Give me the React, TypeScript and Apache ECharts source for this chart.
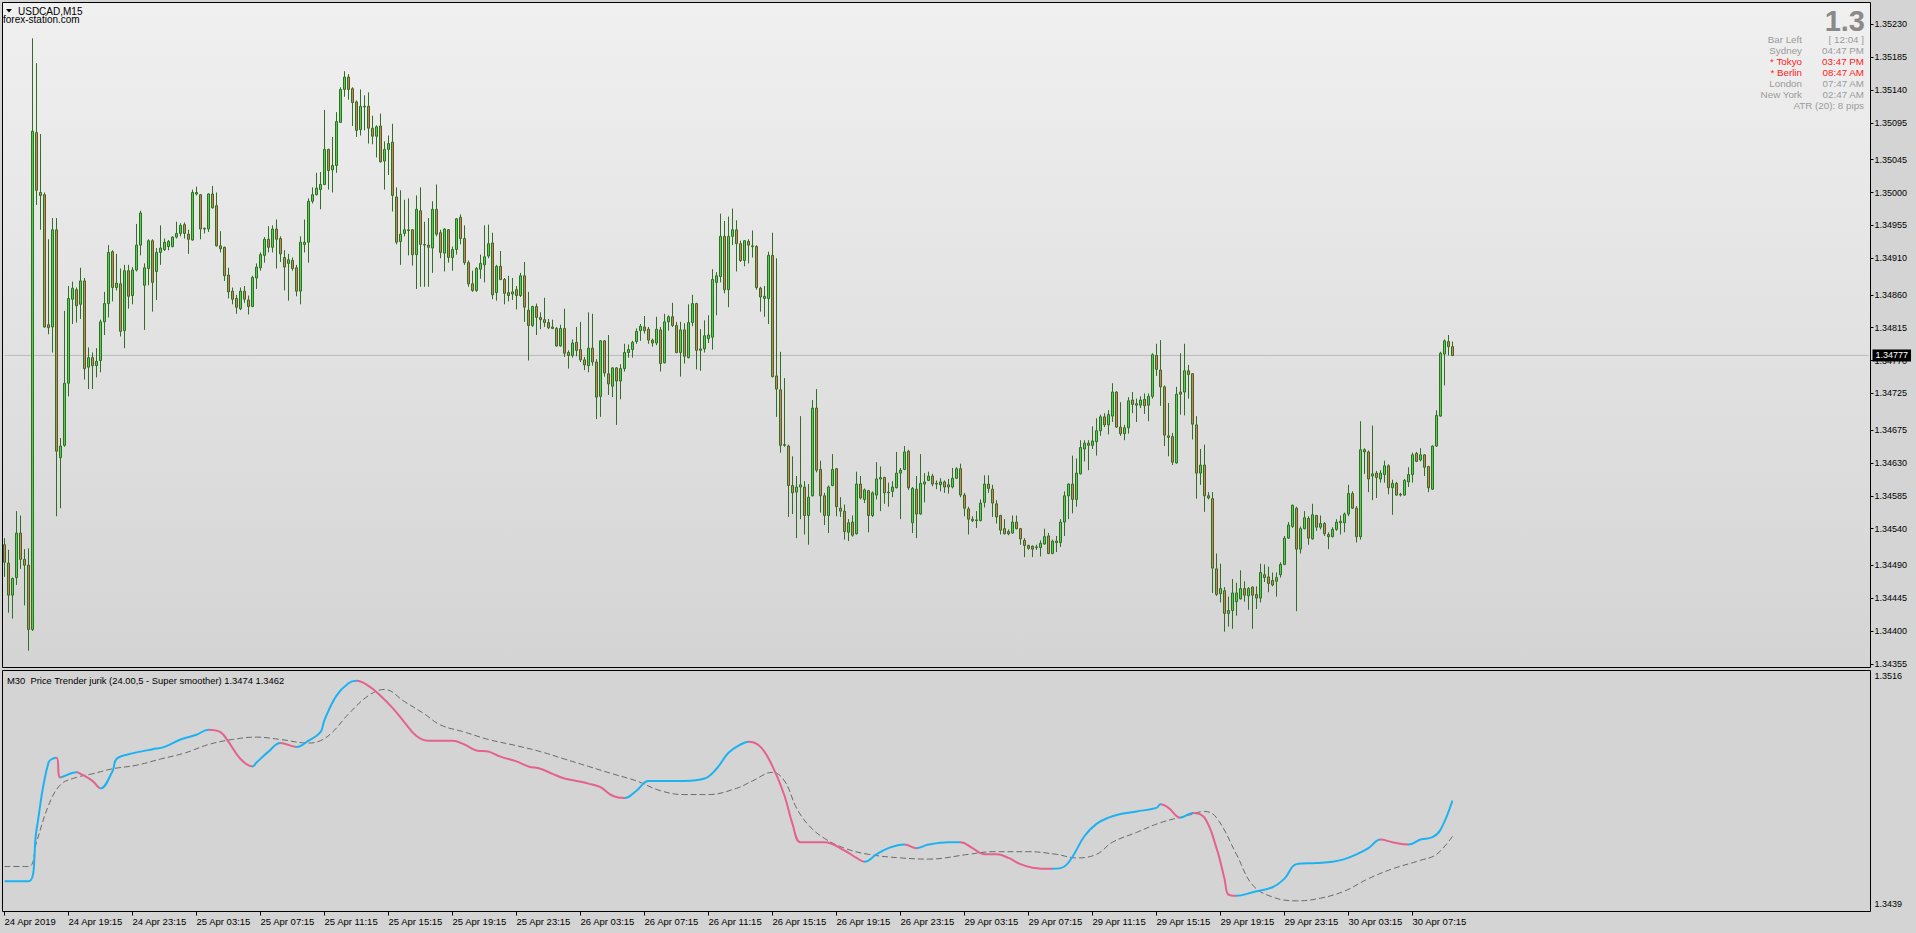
import React, { useEffect, useRef } from "react";
import * as echarts from "echarts";

// ---- x axis time labels (one every 16 M15 bars) ----
const TIME_LABELS = [
  "24 Apr 2019", "24 Apr 19:15", "24 Apr 23:15", "25 Apr 03:15", "25 Apr 07:15", "25 Apr 11:15",
  "25 Apr 15:15", "25 Apr 19:15", "25 Apr 23:15", "26 Apr 03:15", "26 Apr 07:15", "26 Apr 11:15",
  "26 Apr 15:15", "26 Apr 19:15", "26 Apr 23:15", "29 Apr 03:15", "29 Apr 07:15", "29 Apr 11:15",
  "29 Apr 15:15", "29 Apr 19:15", "29 Apr 23:15", "30 Apr 03:15", "30 Apr 07:15",
];
const BARS_PER_LABEL = 16;
const SLOTS = 467;

// ---- price axis labels ----
const PRICE_TICKS = [
  1.3523, 1.35185, 1.3514, 1.35095, 1.35045, 1.35, 1.34955, 1.3491, 1.3486, 1.34815,
  1.3477, 1.34725, 1.34675, 1.3463, 1.34585, 1.3454, 1.3449, 1.34445, 1.344, 1.34355,
];
const IND_TICKS = [1.3439, 1.3516];
const LAST_PRICE = 1.34777;

// ---- USDCAD M15 candles ----
const OPEN = [
  1.34518,1.34493,1.34449,1.34473,1.34534,1.34498,1.3449,1.34402,1.35082,1.35,
  1.34997,1.34819,1.34816,1.34949,1.34637,1.34654,1.34739,1.34854,1.34867,1.34847,
  1.34879,1.34761,1.34774,1.34763,1.3477,1.34823,1.34848,1.34919,1.3487,1.34875,
  1.34811,1.34893,1.34859,1.34894,1.34928,1.34873,1.34896,1.34934,1.34892,1.34918,
  1.34922,1.34926,1.34926,1.34939,1.34944,1.34956,1.34943,1.34935,1.34998,1.34997,
  1.34951,1.3495,1.34998,1.34982,1.34927,1.34925,1.34887,1.34865,1.34855,1.34841,
  1.34865,1.34853,1.34844,1.34883,1.34897,1.34914,1.34936,1.34925,1.3495,1.34937,
  1.34911,1.34903,1.34907,1.34897,1.34865,1.34929,1.34932,1.34988,1.34997,1.35004,
  1.35011,1.35059,1.35031,1.35037,1.35096,1.35141,1.35158,1.35142,1.35124,1.35086,
  1.35118,1.35118,1.35088,1.35077,1.35091,1.35043,1.35059,1.35069,1.34994,1.34933,
  1.34944,1.34949,1.34949,1.34915,1.34975,1.34929,1.34928,1.34924,1.34977,1.34945,
  1.34917,1.34949,1.34911,1.34922,1.34966,1.34937,1.34904,1.34875,1.34866,1.34895,
  1.34901,1.34913,1.34931,1.34863,1.34899,1.34881,1.34863,1.34861,1.34867,1.34859,
  1.34886,1.34839,1.34818,1.34844,1.34829,1.34826,1.34822,1.34816,1.34814,1.3479,
  1.34814,1.34781,1.34777,1.34795,1.34785,1.34771,1.34763,1.34787,1.34768,1.34721,
  1.34797,1.34752,1.34735,1.3476,1.34742,1.34759,1.34781,1.34785,1.34796,1.34811,
  1.34816,1.34813,1.34798,1.34794,1.34812,1.34767,1.34823,1.3483,1.34818,1.34781,
  1.34812,1.34774,1.34822,1.34848,1.34784,1.34786,1.348,1.34802,1.34877,1.34885,
  1.3494,1.34867,1.3494,1.34949,1.3493,1.34907,1.34933,1.34927,1.34926,1.34869,
  1.34855,1.34855,1.34914,1.34749,1.3473,1.34655,1.34653,1.34599,1.3459,1.34597,
  1.34597,1.34558,1.34585,1.34705,1.34621,1.34585,1.34558,1.34599,1.34622,1.34568,
  1.34564,1.34535,1.34549,1.34533,1.34601,1.3458,1.34592,1.34558,1.34586,1.34608,
  1.3461,1.3459,1.34591,1.34596,1.34616,1.34621,1.34646,1.34548,1.34594,1.3456,
  1.34601,1.34606,1.34612,1.34601,1.346,1.34604,1.346,1.34597,1.34609,1.34622,
  1.34586,1.34567,1.34553,1.34552,1.34551,1.34576,1.34601,1.34594,1.34574,1.34558,
  1.3454,1.34536,1.34534,1.34549,1.3454,1.34524,1.34517,1.34516,1.34515,1.34514,
  1.34519,1.3453,1.34506,1.34523,1.34521,1.34549,1.34585,1.34601,1.3458,1.34615,
  1.34649,1.34657,1.34654,1.34659,1.34674,1.34693,1.34682,1.34694,1.34727,1.34679,
  1.3467,1.34678,1.34716,1.34709,1.34709,1.34717,1.34709,1.34721,1.34777,1.34757,
  1.34734,1.34667,1.34666,1.3463,1.34727,1.34727,1.34756,1.34752,1.34682,1.34616,
  1.34627,1.34585,1.34581,1.34485,1.34451,1.34455,1.34424,1.34428,1.3444,1.34444,
  1.34458,1.34448,1.3446,1.3445,1.34445,1.34477,1.34474,1.34469,1.34468,1.34477,
  1.34491,1.34527,1.34543,1.34568,1.34512,1.3454,1.34554,1.34526,1.34558,1.34542,
  1.34547,1.34532,1.34529,1.34539,1.3455,1.34548,1.3456,1.34588,1.34568,1.34529,
  1.34648,1.34645,1.34612,1.34616,1.34608,1.34614,1.34626,1.34596,1.34602,1.34587,
  1.34586,1.34604,1.34614,1.34643,1.34634,1.34641,1.34625,1.34594,1.34653,1.34694,
  1.34779,1.34796,1.34789,
];
const HIGH = [
  1.34527,1.34511,1.34473,1.34564,1.34558,1.34512,1.34513,1.35211,1.35177,1.3508,
  1.35,1.34936,1.34965,1.34965,1.34664,1.34838,1.34872,1.34878,1.3487,1.34897,
  1.34883,1.34788,1.34781,1.34787,1.34826,1.34864,1.34928,1.34921,1.34916,1.34896,
  1.34901,1.34901,1.34898,1.34957,1.34975,1.34903,1.34936,1.34936,1.34924,1.34955,
  1.34937,1.34935,1.3494,1.3496,1.34958,1.34959,1.34949,1.35004,1.35008,1.34998,
  1.34952,1.34999,1.35009,1.35,1.34947,1.34926,1.34897,1.3487,1.3486,1.3487,
  1.34872,1.34859,1.34886,1.34903,1.34918,1.34939,1.34954,1.34955,1.34963,1.3494,
  1.34921,1.34916,1.34911,1.34901,1.3494,1.34963,1.34992,1.35007,1.35027,1.35028,
  1.35113,1.3506,1.35076,1.3511,1.35144,1.35166,1.35162,1.35144,1.35126,1.35141,
  1.35133,1.35137,1.35105,1.35092,1.35108,1.3507,1.35078,1.35094,1.35007,1.35003,
  1.3499,1.34992,1.3495,1.34996,1.35007,1.3496,1.34965,1.34988,1.35011,1.34949,
  1.34951,1.3495,1.34926,1.34965,1.3497,1.34955,1.34907,1.34893,1.34898,1.34915,
  1.34955,1.34956,1.34945,1.34901,1.3492,1.34883,1.34886,1.34883,1.34872,1.3489,
  1.34905,1.34864,1.34845,1.34848,1.34836,1.34856,1.34827,1.34826,1.34816,1.34819,
  1.34841,1.34784,1.34799,1.34816,1.34823,1.34775,1.34836,1.34834,1.34772,1.34798,
  1.34798,1.34805,1.34761,1.34761,1.34765,1.34793,1.34792,1.34797,1.34814,1.3482,
  1.34831,1.34816,1.348,1.3483,1.34816,1.34834,1.34832,1.34849,1.34823,1.34823,
  1.34821,1.34847,1.3486,1.34849,1.34813,1.34825,1.34832,1.34895,1.34891,1.34971,
  1.34961,1.34967,1.34978,1.34962,1.34934,1.34935,1.34936,1.34948,1.34928,1.34871,
  1.34872,1.34919,1.34945,1.3491,1.34782,1.34746,1.34655,1.34639,1.34612,1.34694,
  1.34605,1.34601,1.34716,1.34731,1.34633,1.34589,1.34599,1.34642,1.34623,1.34583,
  1.34573,1.34553,1.34558,1.34618,1.34612,1.34595,1.34593,1.34591,1.34631,1.34625,
  1.34611,1.34603,1.34605,1.34645,1.34623,1.34653,1.34648,1.34597,1.34612,1.34642,
  1.34616,1.34618,1.34615,1.34606,1.34609,1.34606,1.34608,1.34623,1.34624,1.34629,
  1.34589,1.3457,1.34557,1.34564,1.3458,1.34613,1.34613,1.346,1.34579,1.34559,
  1.34553,1.34539,1.34558,1.34558,1.34541,1.34527,1.34518,1.34517,1.34518,1.34524,
  1.3454,1.34534,1.34525,1.3453,1.34553,1.34591,1.34602,1.3464,1.34636,1.34661,
  1.34661,1.34661,1.3468,1.34691,1.34696,1.34698,1.34702,1.34739,1.34728,1.34713,
  1.34682,1.3472,1.34727,1.34718,1.34721,1.34725,1.34725,1.3478,1.34793,1.34798,
  1.34736,1.34712,1.34671,1.34734,1.3478,1.34793,1.34764,1.34753,1.34694,1.34649,
  1.34655,1.3459,1.3459,1.34506,1.34492,1.3446,1.34447,1.34471,1.34466,1.34483,
  1.34468,1.3446,1.34461,1.34461,1.34492,1.34491,1.34488,1.3448,1.3448,1.34494,
  1.3453,1.34549,1.34573,1.3457,1.34543,1.34564,1.34557,1.34574,1.34559,1.34558,
  1.34549,1.34535,1.34542,1.34553,1.34558,1.34562,1.346,1.34591,1.34571,1.34687,
  1.3465,1.34647,1.34681,1.34619,1.3462,1.34633,1.34628,1.34607,1.34604,1.34589,
  1.34608,1.34624,1.34644,1.34645,1.3465,1.34642,1.34626,1.34654,1.34702,1.34782,
  1.34799,1.34805,1.34796,
];
const LOW = [
  1.34474,1.34425,1.34417,1.34463,1.34485,1.34435,1.34373,1.344,1.34983,1.34949,
  1.34815,1.34806,1.34781,1.34557,1.34568,1.34652,1.34721,1.3482,1.34822,1.34827,
  1.34744,1.34731,1.34731,1.34747,1.34754,1.34805,1.34829,1.34851,1.34866,1.34803,
  1.34787,1.34841,1.34847,1.34892,1.34914,1.34812,1.34873,1.34837,1.34853,1.34901,
  1.3492,1.34921,1.34925,1.34937,1.3494,1.34937,1.34916,1.34934,1.34996,1.34936,
  1.34944,1.34946,1.34978,1.34926,1.34918,1.34879,1.34855,1.34847,1.34834,1.34839,
  1.34849,1.34833,1.34843,1.34868,1.34893,1.34904,1.34918,1.34918,1.34896,1.34905,
  1.34866,1.34852,1.34893,1.34858,1.34847,1.34918,1.34904,1.34985,1.34996,1.34977,
  1.3501,1.35004,1.35,1.35027,1.35095,1.35131,1.35127,1.35091,1.35076,1.35078,
  1.35085,1.35067,1.35066,1.35048,1.35041,1.35004,1.35024,1.34974,1.34929,1.34901,
  1.3494,1.34914,1.349,1.34868,1.34871,1.34871,1.34871,1.3489,1.3494,1.3491,
  1.34892,1.34904,1.34893,1.34915,1.34929,1.34901,1.34871,1.34864,1.34864,1.34882,
  1.34877,1.3491,1.34854,1.34852,1.3488,1.34847,1.34851,1.34853,1.3484,1.34857,
  1.34823,1.3477,1.34816,1.34805,1.34813,1.34816,1.34813,1.34813,1.34789,1.34789,
  1.34775,1.34759,1.34774,1.34776,1.34768,1.34757,1.34754,1.34763,1.3469,1.34693,
  1.34748,1.34723,1.3472,1.34682,1.34717,1.34755,1.34774,1.34774,1.34793,1.34797,
  1.34807,1.34793,1.34789,1.34791,1.34755,1.34766,1.34811,1.34816,1.3478,1.34748,
  1.34766,1.34773,1.34817,1.34758,1.34756,1.34781,1.34794,1.34785,1.34832,1.34877,
  1.34862,1.34843,1.34928,1.34892,1.34905,1.34899,1.34903,1.34911,1.34867,1.34837,
  1.3483,1.3482,1.34747,1.34693,1.34644,1.34652,1.34556,1.3456,1.34527,1.34553,
  1.34532,1.34518,1.34584,1.34617,1.34562,1.34545,1.34534,1.34598,1.34557,1.34556,
  1.34525,1.34523,1.34529,1.34532,1.3458,1.34575,1.34535,1.34556,1.3458,1.34564,
  1.34574,1.3457,1.34583,1.34595,1.34553,1.3462,1.34593,1.34534,1.34527,1.34559,
  1.34576,1.34605,1.34598,1.34594,1.34591,1.34589,1.34588,1.34595,1.34608,1.34583,
  1.34557,1.34532,1.34549,1.34541,1.3455,1.34569,1.34589,1.34556,1.34547,1.34532,
  1.34532,1.34531,1.34533,1.34539,1.34518,1.34501,1.34511,1.34501,1.34511,1.34502,
  1.34518,1.34505,1.34505,1.34508,1.34515,1.3453,1.34553,1.34561,1.3457,1.34614,
  1.34632,1.3462,1.34649,1.3464,1.34667,1.34679,1.34669,1.34686,1.34678,1.34667,
  1.34661,1.3467,1.34698,1.34686,1.34705,1.34697,1.34687,1.34718,1.34749,1.34708,
  1.34653,1.34639,1.34627,1.34629,1.34696,1.34695,1.34718,1.34662,1.34581,1.346,
  1.34563,1.3458,1.34452,1.34448,1.34439,1.34399,1.34406,1.34403,1.34421,1.34443,
  1.3444,1.34429,1.34403,1.3443,1.34439,1.34467,1.34453,1.34461,1.34447,1.34473,
  1.3449,1.34526,1.34541,1.34427,1.34506,1.34539,1.34518,1.34525,1.34537,1.34539,
  1.3453,1.34512,1.34528,1.34537,1.34532,1.34535,1.34557,1.34567,1.34521,1.34525,
  1.34615,1.3459,1.34579,1.34582,1.34603,1.34603,1.34587,1.34559,1.34585,1.34584,
  1.34585,1.34597,1.34603,1.34631,1.34632,1.34612,1.3459,1.34593,1.34652,1.34693,
  1.34736,1.34777,1.34776,
];
const CLOSE = [
  1.34494,1.34449,1.34472,1.34534,1.34498,1.3449,1.34402,1.35084,1.35003,1.34996,
  1.34816,1.34815,1.34949,1.34646,1.34653,1.34739,1.34855,1.34869,1.34845,1.34879,
  1.34759,1.34774,1.34763,1.34769,1.34823,1.34848,1.34918,1.3487,1.34876,1.3481,
  1.34893,1.34858,1.34894,1.34928,1.34972,1.34897,1.34934,1.34877,1.34918,1.34924,
  1.34932,1.34933,1.34939,1.34944,1.34955,1.34944,1.34936,1.35,1.35,1.3495,
  1.3495,1.34998,1.34979,1.34927,1.34923,1.34886,1.34864,1.34854,1.34843,1.34865,
  1.34854,1.34844,1.34884,1.34898,1.34915,1.34936,1.34925,1.3495,1.34936,1.34916,
  1.34898,1.34908,1.34896,1.34865,1.34932,1.34932,1.34988,1.34997,1.35006,1.35011,
  1.35059,1.3503,1.35037,1.35097,1.35141,1.35158,1.35141,1.35123,1.35085,1.35118,
  1.35117,1.35088,1.35077,1.3509,1.35042,1.35059,1.35067,1.34996,1.34932,1.34943,
  1.34949,1.34948,1.34915,1.34977,1.34929,1.34928,1.34925,1.34977,1.34943,1.34918,
  1.3495,1.34911,1.34922,1.34964,1.34937,1.34904,1.34875,1.34866,1.34896,1.34903,
  1.34912,1.3493,1.3486,1.34899,1.34881,1.34862,1.34859,1.34864,1.34859,1.34886,
  1.34843,1.34818,1.34844,1.34829,1.34826,1.34822,1.34815,1.34814,1.3479,1.34814,
  1.3478,1.34777,1.34794,1.34784,1.34771,1.34764,1.34787,1.34768,1.3472,1.34797,
  1.34753,1.34738,1.3476,1.34742,1.34759,1.34781,1.34785,1.34795,1.3481,1.34817,
  1.34811,1.34798,1.34794,1.34813,1.34766,1.34823,1.3483,1.34818,1.34781,1.34812,
  1.34776,1.34822,1.34848,1.34784,1.34786,1.34804,1.34805,1.34881,1.34886,1.3494,
  1.34867,1.3494,1.34949,1.3493,1.34907,1.34934,1.34928,1.34926,1.3487,1.34857,
  1.34858,1.34914,1.34748,1.34731,1.34654,1.34654,1.34599,1.34589,1.34597,1.346,
  1.34558,1.34583,1.34705,1.3462,1.34585,1.34558,1.34597,1.34621,1.3457,1.34564,
  1.34536,1.34548,1.34531,1.34601,1.34582,1.34593,1.34558,1.34589,1.34608,1.3461,
  1.34589,1.34589,1.34597,1.34616,1.3462,1.34645,1.34596,1.34595,1.3456,1.34602,
  1.34604,1.34612,1.34601,1.34602,1.34604,1.34597,1.34597,1.34609,1.34622,1.34586,
  1.34568,1.34553,1.34551,1.34551,1.34575,1.34601,1.34595,1.34575,1.34556,1.34538,
  1.34533,1.34533,1.34549,1.3454,1.34526,1.34517,1.34513,1.34512,1.34514,1.3452,
  1.34529,1.34506,1.34523,1.34521,1.34549,1.34585,1.34601,1.3458,1.34616,1.34651,
  1.34657,1.34654,1.3466,1.34674,1.34693,1.34682,1.34696,1.34727,1.34679,1.3467,
  1.34678,1.34715,1.3471,1.34711,1.34716,1.34708,1.34721,1.34778,1.34758,1.34734,
  1.34668,1.34665,1.34631,1.34724,1.34724,1.34756,1.34751,1.34683,1.34616,1.34627,
  1.34585,1.34582,1.34486,1.3445,1.34458,1.34424,1.34428,1.34452,1.34452,1.34458,
  1.34449,1.34458,1.34449,1.34445,1.3448,1.34473,1.34465,1.34463,1.34473,1.34491,
  1.34527,1.34545,1.34572,1.34512,1.3454,1.34555,1.34527,1.34559,1.34542,1.34547,
  1.34533,1.34529,1.34539,1.34549,1.34548,1.3456,1.34588,1.34568,1.34529,1.34648,
  1.34645,1.34608,1.34615,1.3461,1.34616,1.34626,1.34596,1.34602,1.34586,1.34586,
  1.34606,1.34614,1.34641,1.34632,1.34641,1.34624,1.34596,1.34653,1.34695,1.3478,
  1.34797,1.34789,1.34777,
];

// ---- M30 Price Trender jurik (bar index, value) ----
const JMA_X = [
  0,6,8,11,13,14,18,19,22,24,27,28,31,34,37,40,44,48,51,54,56,59,62,63,66,69,73,76,79,80,
  83,86,88,91,94,97,100,103,106,109,112,115,118,121,124,128,131,134,137,140,143,146,149,152,155,158,161,164,167,170,
  175,178,181,184,186,189,192,195,197,199,202,205,210,213,215,218,221,225,228,231,236,239,242,245,248,251,254,257,262,265,
  267,270,273,276,279,283,288,289,291,294,297,300,303,305,306,308,312,317,320,323,328,332,335,338,341,344,347,351,354,357,
  359,362,
];
const JMA_Y = [
  1.34468,1.34468,1.34642,1.34869,1.34885,1.34819,1.34836,1.34831,1.34807,1.34782,
  1.3484,1.34881,1.34897,1.34906,1.34914,1.34922,1.34947,1.34963,1.3498,1.34972,
  1.34939,1.34881,1.34856,1.34869,1.34906,1.34935,1.34922,1.34943,1.34972,1.35013,
  1.35095,1.35137,1.35145,1.35128,1.35095,1.35054,1.35005,1.34959,1.34943,1.34943,
  1.34943,1.3493,1.3491,1.34906,1.34889,1.34873,1.34856,1.34848,1.34831,1.34815,
  1.34807,1.34798,1.34786,1.34757,1.34749,1.34774,1.34807,1.34807,1.34807,1.34807,
  1.34815,1.34848,1.34902,1.3493,1.34939,1.34922,1.34856,1.34757,1.34662,1.346,
  1.346,1.346,1.34572,1.34547,1.34534,1.34559,1.3458,1.34592,1.3458,1.34592,
  1.346,1.346,1.3458,1.34559,1.34559,1.34547,1.34526,1.34514,1.3451,1.34518,
  1.34551,1.34621,1.34662,1.34683,1.34695,1.34704,1.34716,1.34728,1.34716,1.34683,
  1.34699,1.34683,1.3458,1.34477,1.34423,1.34419,1.34431,1.34448,1.34477,1.34526,
  1.3453,1.34534,1.34543,1.34559,1.3458,1.34609,1.346,1.34592,1.34609,1.34617,
  1.34642,1.34741,
];
// ---- Super smoother (dashed) ----
const SS_X = [
  0,6,8,11,14,18,22,27,33,39,45,51,57,63,69,76,79,82,86,91,95,100,105,109,115,121,128,134,140,146,
  152,158,164,170,176,183,187,192,195,198,201,205,210,216,224,231,241,247,256,263,268,273,277,283,289,296,300,303,308,312,
  317,323,329,335,341,347,354,358,362,
];
const SS_Y = [
  1.34518,1.34518,1.346,1.34724,1.34794,1.34819,1.34831,1.34848,1.3486,1.34881,
  1.34901,1.3493,1.34947,1.34955,1.34947,1.34935,1.34943,1.34972,1.35033,1.35095,
  1.35116,1.35075,1.35033,1.34996,1.34972,1.34947,1.34926,1.34906,1.34881,1.34856,
  1.34831,1.34807,1.34774,1.34761,1.34761,1.34782,1.34807,1.34836,1.34807,1.34716,
  1.34658,1.34613,1.3458,1.34559,1.34547,1.34543,1.34559,1.34568,1.34568,1.34559,
  1.34547,1.34559,1.346,1.34633,1.34666,1.34691,1.34704,1.34683,1.34559,1.34456,
  1.34415,1.34402,1.34411,1.34435,1.34477,1.3451,1.34539,1.34559,1.3462,
];

// ---- info panel ----
const INFO_ROWS = [
  { label: "Bar Left", value: "[ 12:04 ]", hot: false },
  { label: "Sydney", value: "04:47 PM", hot: false },
  { label: "* Tokyo", value: "03:47 PM", hot: true },
  { label: "* Berlin", value: "08:47 AM", hot: true },
  { label: "London", value: "07:47 AM", hot: false },
  { label: "New York", value: "02:47 AM", hot: false },
];

const FONT = '"Liberation Sans", Arial, sans-serif';
const BULL = "#4CD44C";
const BEAR = "#E07A50";
const EDGE = "#336E26";
const BLUE = "#1CB2F2";
const PINK = "#E4628C";

function txt(text: string, x: number, y: number, opts: any = {}) {
  const align = opts.align || "left";
  return {
    type: "text",
    silent: true,
    z: 100,
    style: {
      text,
      x,
      y,
      fill: opts.fill || "#000",
      fontSize: opts.size || 9,
      fontFamily: FONT,
      fontWeight: opts.weight || "normal",
      align,
      verticalAlign: "middle",
      textAlign: align,
      textVerticalAlign: "middle",
    },
  };
}

export default function App() {
  const ref = useRef<HTMLDivElement>(null);
  useEffect(() => {
    document.body.style.margin = "0";
    const chart = echarts.init(ref.current as HTMLDivElement, null, { renderer: "svg" });
    const slots = Array.from({ length: SLOTS }, (_, i) => String(i));
    const candles = OPEN.map((o, i) => [o, CLOSE[i], LOW[i], HIGH[i]]);
    const isLabelSlot = (i: number) => i % BARS_PER_LABEL === 0 && i / BARS_PER_LABEL < TIME_LABELS.length;

    // colour pieces for the jurik line: blue while rising, pink while falling
    const pieces: any[] = [];
    let dir = 1;
    let start = JMA_X[0];
    for (let k = 0; k < JMA_X.length - 1; k++) {
      const d = JMA_Y[k + 1] > JMA_Y[k] ? 1 : JMA_Y[k + 1] < JMA_Y[k] ? -1 : dir;
      if (k > 0 && d !== dir) {
        pieces.push({ gte: start, lt: JMA_X[k], color: dir > 0 ? BLUE : PINK });
        start = JMA_X[k];
      }
      dir = d;
    }
    pieces.push({ gte: start, lte: JMA_X[JMA_X.length - 1], color: dir > 0 ? BLUE : PINK });

    const graphics: any[] = [
      { type: "polygon", silent: true, z: 100, shape: { points: [[6, 9], [12, 9], [9, 12.5]] }, style: { fill: "#000" } },
      txt("USDCAD,M15", 18, 11, { size: 10 }),
      txt("forex-station.com", 3, 19, { size: 10 }),
      txt("M30\u00a0 Price Trender jurik (24.00,5 - Super smoother) 1.3474 1.3462", 7, 680, { size: 9.4 }),
      txt("1.3", 1865, 21, { size: 29, weight: "bold", fill: "#8A8A8A", align: "right" }),
    ];
    INFO_ROWS.forEach((r, i) => {
      const y = 39 + i * 11;
      const fill = r.hot ? "#FF2020" : "#9B9B9B";
      graphics.push(txt(r.label, 1802, y, { fill, align: "right", size: 9.8 }));
      graphics.push(txt(r.value, 1864, y, { fill, align: "right", size: 9.8 }));
    });
    graphics.push(txt("ATR (20): 8 pips", 1864, 105, { fill: "#9B9B9B", align: "right", size: 9.8 }));

    const option: any = {
      animation: false,
      backgroundColor: "#D4D4D4",
      textStyle: { fontFamily: FONT },
      grid: [
        {
          left: 2.5, top: 2.5, width: 1868, height: 665, show: true,
          backgroundColor: new echarts.graphic.LinearGradient(0, 0, 0, 1, [
            { offset: 0, color: "#F0F0F0" },
            { offset: 1, color: "#D4D4D4" },
          ]),
          borderColor: "#000", borderWidth: 1,
        },
        { left: 2.5, top: 670.5, width: 1868, height: 241, show: true, backgroundColor: "#D4D4D4", borderColor: "#000", borderWidth: 1 },
      ],
      xAxis: [
        { type: "category", gridIndex: 0, data: slots, show: false, boundaryGap: true },
        {
          type: "category", gridIndex: 1, data: slots, boundaryGap: true,
          axisLine: { show: false },
          splitLine: { show: false },
          axisTick: { show: true, alignWithLabel: true, interval: (i: number) => isLabelSlot(i), length: 4, lineStyle: { color: "#000" } },
          axisLabel: {
            interval: (i: number) => isLabelSlot(i),
            formatter: (_v: string, i: number) => TIME_LABELS[i / BARS_PER_LABEL] ?? "",
            align: "left", fontSize: 9.5, color: "#000", margin: 5, fontFamily: FONT,
          },
        },
      ],
      yAxis: [
        {
          type: "value", gridIndex: 0, position: "right", min: 1.3435, max: 1.3526,
          axisLine: { show: false }, splitLine: { show: false },
          axisTick: { show: true, customValues: PRICE_TICKS, length: 3, lineStyle: { color: "#000" } },
          axisLabel: { customValues: PRICE_TICKS, formatter: (v: number) => v.toFixed(5), fontSize: 9, color: "#000", margin: 4, fontFamily: FONT },
        },
        {
          type: "value", gridIndex: 1, position: "right", min: 1.34366, max: 1.3518,
          axisLine: { show: false }, splitLine: { show: false },
          axisTick: { show: false },
          axisLabel: { customValues: IND_TICKS, formatter: (v: number) => v.toFixed(4), fontSize: 9, color: "#000", margin: 4, fontFamily: FONT },
        },
      ],
      visualMap: [
        { type: "piecewise", show: false, dimension: 0, seriesIndex: 2, pieces },
      ],
      series: [
        {
          // current bid line with its price box on the axis
          type: "line", xAxisIndex: 0, yAxisIndex: 0, z: 1, silent: true,
          data: [[0, LAST_PRICE], [SLOTS - 1, LAST_PRICE]],
          symbol: "none", lineStyle: { color: "#BDBDBD", width: 1 }, itemStyle: { color: "#BDBDBD" },
          endLabel: {
            show: true, formatter: LAST_PRICE.toFixed(5), color: "#FFF", backgroundColor: "#000",
            fontSize: 9, padding: [2, 3, 1, 3], distance: 4, fontFamily: FONT,
          },
        },
        {
          type: "candlestick", xAxisIndex: 0, yAxisIndex: 0, data: candles, barWidth: 2, z: 2,
          itemStyle: { color: BULL, color0: BEAR, borderColor: EDGE, borderColor0: EDGE, borderWidth: 1 },
        },
        {
          type: "line", xAxisIndex: 1, yAxisIndex: 1, data: JMA_X.map((x, i) => [x, JMA_Y[i]]),
          smooth: 0.4, symbol: "none", lineStyle: { width: 2 }, z: 4,
        },
        {
          type: "line", xAxisIndex: 1, yAxisIndex: 1, data: SS_X.map((x, i) => [x, SS_Y[i]]),
          smooth: 0.4, symbol: "none", lineStyle: { width: 1, type: [6, 3], color: "#6A6A6A" }, itemStyle: { color: "#6A6A6A" }, z: 3,
        },
      ],
      graphic: graphics,
    };
    chart.setOption(option);
    return () => chart.dispose();
  }, []);
  return <div ref={ref} style={{ position: "absolute", left: 0, top: 0, width: 1916, height: 933 }} />;
}
